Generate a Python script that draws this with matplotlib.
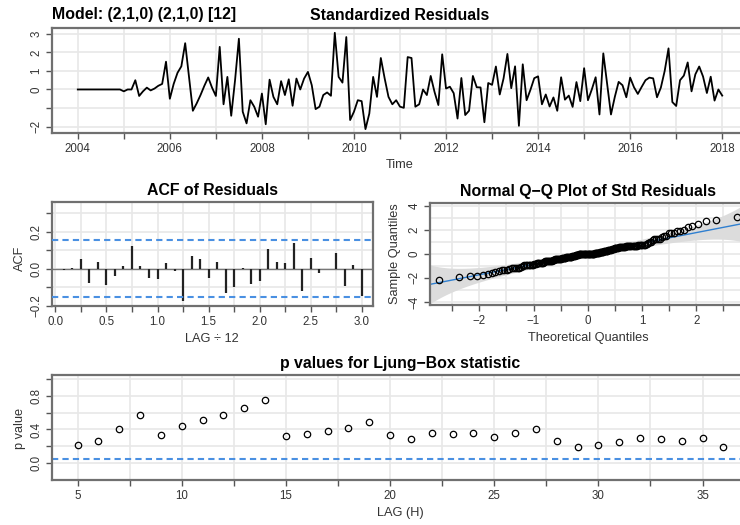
import numpy as np
import matplotlib
matplotlib.use("Agg")
import matplotlib.pyplot as plt
from statistics import NormalDist

plt.rcParams['font.family'] = ['Liberation Sans', 'DejaVu Sans']

# standardized residuals, monthly Jan 2004 .. Jan 2018
resid = [
    0, 0, 0, 0, 0, 0, 0, 0, 0, 0, 0, 0,
    -0.1, 0.0, 0.0, 0.5, -0.35, -0.1, 0.1, -0.05, 0.05, 0.2, 0.3, 1.5,
    -0.5, 0.3, 0.9, 1.25, 2.5, 0.7, -1.15, -0.75, -0.3, 0.2, 0.65, 0.1,
    -0.35, 2.3, -0.8, 0.68, -1.42, 0.5, 2.74, -1.2, -1.83, -0.58, -0.93, -1.47,
    -0.22, -1.88, 0.53, -0.4, -0.8, 0.45, -0.3, 0.55, -0.88, 0.59, 0.0, 0.59,
    0.95, 0.23, -1.06, -0.93, -0.3, -0.16, -0.34, 3.06, 0.68, 0.37, 2.83, -1.65,
    -1.2, -0.58, -0.63, -2.14, -1.3, 0.68, -0.4, 1.7, 0.6, -0.4, -0.8, -0.58,
    -0.93, -0.99, 1.75, 1.7, -0.93, -0.8, 0.0, -0.3, 0.73, -0.13, -0.84, 1.9,
    0.05, 0.15, -0.2, -1.57, 0.62, -1.38, -1.15, 0.73, 0.12, 0.11, -1.77, 0.35,
    0.25, 1.24, -0.27, 0.6, 1.92, 0.07, 1.25, -1.96, 1.36, -0.58, -0.02, 0.61,
    0.71, -0.8, -0.27, -0.92, -0.43, -1.15, 0.66, -0.55, -0.33, -0.94, 0.4, -0.63,
    1.15, -0.58, 0.0, 0.66, -1.35, 1.95, 0.3, -1.35, -0.4, 0.41, 0.23, -0.42,
    0.64, 0.12, -0.24, 0.14, 0.5, 0.64, 0.6, -0.42, 0.1, 1.0, 2.22, -0.68,
    -0.89, 0.5, 0.75, 1.46, -0.1, 0.82, 1.24, 0.7, -0.19, 0.69, -0.6, 0.0,
    -0.33,
]
start_year = 2004

# ACF of residuals, lags 1..36 (in seasons)
acf_vals = [
    -0.005, 0.005, 0.05, -0.075, 0.035, -0.085, -0.04, 0.015, 0.125, 0.015, -0.05, -0.055,
    0.03, -0.01, -0.175, 0.07, 0.055, -0.05, 0.035, -0.13, -0.1, 0.003, -0.08, -0.065,
    0.105, 0.035, 0.03, 0.14, -0.12, 0.06, -0.025, 0.0, 0.085, -0.09, 0.02, -0.145,
]

# Ljung-Box p values
lb_lags = list(range(5, 37))
lb_pvals = [
    0.213, 0.264, 0.405, 0.567, 0.331, 0.445, 0.516, 0.575, 0.657, 0.744,
    0.327, 0.343, 0.382, 0.421, 0.488, 0.335, 0.291, 0.354, 0.346, 0.362,
    0.307, 0.354, 0.402, 0.268, 0.197, 0.213, 0.256, 0.299, 0.283, 0.264,
    0.303, 0.189,
]

W, H = 740, 525
fig = plt.figure(figsize=(W / 100, H / 100), dpi=100)

BORDER = '#707070'
GRID = '#e8e8e8'
TXT = '#333333'
BLUE = '#4a90e2'
TITLE_FS = 11.4
LAB_FS = 9.2


def px_axes(l, r, t, b):
    return fig.add_axes([l / W, 1 - b / H, (r - l) / W, (b - t) / H])


def style(ax, xt, xl, yt, yl):
    ax.set_xticks(xt)
    ax.set_xticklabels(xl)
    ax.set_yticks(yt)
    ax.set_yticklabels(yl, rotation=90, va='center')
    ax.grid(True, color=GRID, lw=1.2, zorder=0)
    ax.set_axisbelow(True)
    for s in ax.spines.values():
        s.set_color(BORDER)
        s.set_linewidth(1.6)
    ax.tick_params(length=4, width=1, color='#555555', labelcolor=TXT,
                   labelsize=8.3, pad=3)


def lbl(vals, keep, fmt):
    return [fmt.format(v).replace('-', '\u2212') if keep(v) else '' for v in vals]


# --- standardized residuals ---
ax1 = px_axes(52, 748, 28, 133)
r = np.array(resid)
t = start_year + np.arange(len(r)) / 12
ax1.plot(t, r, color='black', lw=1.3)
ax1.set_xlim(2003.44, 2018.56)
ax1.set_ylim(-2.35, 3.32)
yrs = np.arange(2004, 2019)
yt = np.arange(-2, 4)
style(ax1, yrs, lbl(yrs, lambda v: v % 2 == 0, '{:d}'),
      yt, lbl(yt, lambda v: v != -1, '{:d}'))
fig.text(400 / W, 1 - 165 / H, 'Time', ha='center', va='center', fontsize=LAB_FS, color=TXT)
fig.text(52 / W, 1 - 15 / H, 'Model: (2,1,0) (2,1,0) [12]', ha='left', va='center',
         fontsize=TITLE_FS, fontweight='bold')
fig.text(400 / W, 1 - 15 / H, 'Standardized Residuals', ha='center', va='center',
         fontsize=TITLE_FS, fontweight='bold')

# --- ACF ---
ax2 = px_axes(52, 373, 202, 306)
lags = np.arange(1, len(acf_vals) + 1) / 12
ax2.axhline(0, color='#777777', lw=1, zorder=1)
ax2.vlines(lags, 0, acf_vals, color='#222222', lw=1.6, zorder=2)
bound = 2 / np.sqrt(len(r))
for b in (bound, -bound):
    ax2.axhline(b, color=BLUE, lw=1.5, ls=(0, (3, 2)), zorder=3)
ax2.set_xlim(-0.032, 3.108)
ax2.set_ylim(-0.2, 0.359)
xt = np.arange(0, 3.01, 0.25)
yt = np.round(np.arange(-0.2, 0.31, 0.1), 1)
style(ax2, xt, lbl(xt, lambda v: abs(v * 2 - round(v * 2)) < 1e-9, '{:.1f}'),
      yt, lbl(yt, lambda v: abs(v * 5 - round(v * 5)) < 1e-9, '{:.1f}'))
ax2.set_title('ACF of Residuals', fontsize=TITLE_FS, fontweight='bold', pad=5)
fig.text(212 / W, 1 - 339 / H, 'LAG \u00f7 12', ha='center', va='center', fontsize=LAB_FS, color=TXT)
fig.text(20 / W, 1 - 258 / H, 'ACF', ha='center', va='center', rotation=90, fontsize=LAB_FS, color=TXT)

# --- Normal Q-Q ---
ax3 = px_axes(430, 746, 203, 305)
nd = NormalDist()
n = len(r)
theo = np.array([nd.inv_cdf((i - 0.5) / n) for i in range(1, n + 1)])
samp = np.sort(r)
q1, q3 = np.percentile(r, [25, 75])
slope = (q3 - q1) / (nd.inv_cdf(0.75) - nd.inv_cdf(0.25))
inter = q1 - slope * nd.inv_cdf(0.25)
xg = np.linspace(-2.95, 2.95, 200)
pg = np.array([nd.cdf(v) for v in xg])
dg = np.array([nd.pdf(v) for v in xg])
half = 0.22 * np.sqrt(pg * (1 - pg)) / dg
fit = inter + slope * xg
ax3.fill_between(xg, fit - half, fit + half, color='#dcdcdc', lw=0, zorder=1)
ax3.plot(xg, fit, color='#2f7fd0', lw=1, zorder=2)
ax3.plot(theo, samp, 'o', mfc='none', mec='black', mew=0.9, ms=4.6, zorder=3)
ax3.set_xlim(-2.91, 2.92)
ax3.set_ylim(-4.25, 4.22)
xt = np.arange(-2.5, 2.6, 0.5)
yt = np.arange(-4, 5, 2)
style(ax3, xt, lbl(xt, lambda v: abs(v - round(v)) < 1e-9, '{:.0f}'),
      yt, lbl(yt, lambda v: True, '{:d}'))
ax3.set_yticks(np.arange(-3, 4, 2), minor=True)
ax3.grid(True, which='minor', axis='y', color=GRID, lw=1.2)
ax3.tick_params(which='minor', length=0)
ax3.set_title('Normal Q\u2212Q Plot of Std Residuals', fontsize=TITLE_FS, fontweight='bold', pad=5)
fig.text(588 / W, 1 - 338 / H, 'Theoretical Quantiles', ha='center', va='center',
         fontsize=LAB_FS, color=TXT)
fig.text(395 / W, 1 - 254 / H, 'Sample Quantiles', ha='center', va='center', rotation=90,
         fontsize=LAB_FS, color=TXT)

# --- Ljung-Box ---
ax4 = px_axes(52, 749, 375, 480)
ax4.axhline(0.05, color=BLUE, lw=1.5, ls=(0, (3, 2)), zorder=2)
ax4.plot(lb_lags, lb_pvals, 'o', mfc='none', mec='black', mew=0.9, ms=4.6, zorder=3)
ax4.set_xlim(3.77, 37.23)
ax4.set_ylim(-0.197, 1.043)
xt = np.arange(5, 37.1, 2.5)
yt = np.round(np.arange(0, 1.01, 0.2), 1)
style(ax4, xt, lbl(xt, lambda v: v % 5 == 0, '{:.0f}'),
      yt, lbl(yt, lambda v: round(v * 10) % 4 == 0, '{:.1f}'))
ax4.set_title('p values for Ljung\u2212Box statistic', fontsize=TITLE_FS, fontweight='bold', pad=5)
fig.text(400 / W, 1 - 513 / H, 'LAG (H)', ha='center', va='center', fontsize=LAB_FS, color=TXT)
fig.text(20 / W, 1 - 428 / H, 'p value', ha='center', va='center', rotation=90,
         fontsize=LAB_FS, color=TXT)

fig.savefig('out.png', dpi=100)
